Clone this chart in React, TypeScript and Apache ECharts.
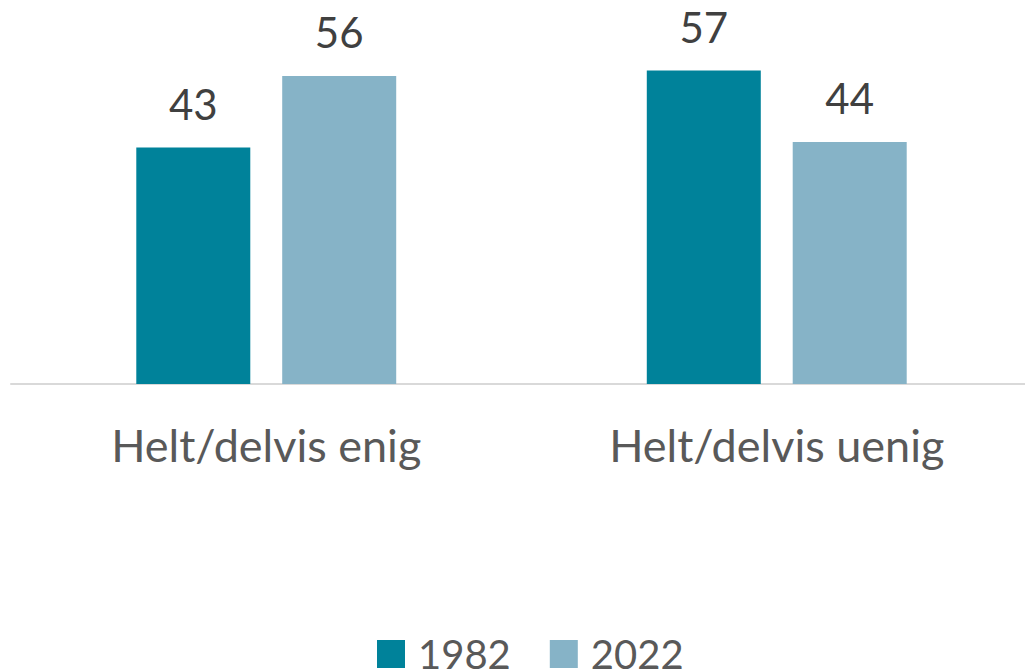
import React, { useEffect, useRef } from "react";
import * as echarts from "echarts";

const categories = ["Helt/delvis enig", "Helt/delvis uenig"];
const seriesNames = ["1982", "2022"];
const values1982 = [43, 57];
const values2022 = [56, 44];
const colors = ["#00829a", "#86b3c7"];

export default function App() {
  const ref = useRef<HTMLDivElement>(null);
  useEffect(() => {
    if (!ref.current) return;
    const chart = echarts.init(ref.current, undefined, { renderer: "svg" });
    const font = "Lato";
    const labelStyle = {
      show: true,
      position: "top" as const,
      distance: 23,
      fontFamily: font,
      fontSize: 42,
      color: "#404040",
    };
    chart.setOption({
      animation: false,
      backgroundColor: "#ffffff",
      grid: { left: 11, right: 0, top: 54, bottom: 287, containLabel: false },
      legend: {
        bottom: -8,
        left: 372,
        itemWidth: 28,
        itemHeight: 28,
        itemGap: 39,
        icon: "rect",
        data: seriesNames,
        textStyle: {
          fontFamily: font,
          fontSize: 40,
          color: "#595959",
          padding: [0, 0, 0, 8],
        },
      },
      xAxis: {
        type: "category",
        data: categories,
        axisLine: { lineStyle: { color: "#d9d9d9", width: 2 } },
        axisTick: { show: false },
        axisLabel: {
          margin: 38,
          fontFamily: font,
          fontSize: 45,
          color: "#595959",
        },
      },
      yAxis: {
        type: "value",
        min: 0,
        max: 60,
        show: false,
        splitLine: { show: false },
      },
      series: [
        {
          name: seriesNames[0],
          type: "bar",
          data: values1982,
          barWidth: 114,
          barGap: "28%",
          itemStyle: { color: colors[0] },
          label: labelStyle,
        },
        {
          name: seriesNames[1],
          type: "bar",
          data: values2022,
          barWidth: 114,
          barGap: "28%",
          itemStyle: { color: colors[1] },
          label: labelStyle,
        },
      ],
    });
    return () => chart.dispose();
  }, []);
  return (
    <div
      style={{
        position: "absolute",
        left: 0,
        top: 0,
        width: 1025,
        height: 671,
        overflow: "hidden",
      }}
    >
      <div ref={ref} style={{ width: 1032, height: 671 }} />
    </div>
  );
}
